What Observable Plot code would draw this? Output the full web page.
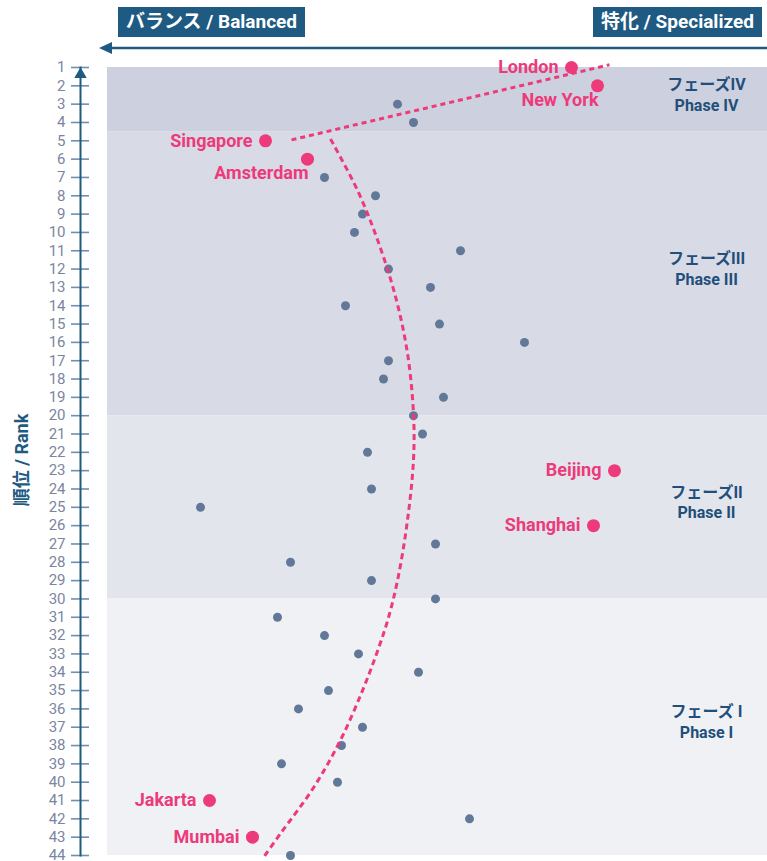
<!DOCTYPE html>
<html><head><meta charset="utf-8">
<script src="https://cdn.jsdelivr.net/npm/d3@7"></script>
<script src="https://cdn.jsdelivr.net/npm/@observablehq/plot@0.6"></script>
<style>
body{margin:0;background:#fff;}
#wrap{position:relative;width:767px;height:861px;font-family:Roboto,"Noto Sans CJK JP",sans-serif;overflow:hidden;}
#chart{position:absolute;left:0;top:0;}
.hdr{position:absolute;top:7px;height:30px;background:#1e5a82;color:#fff;font-weight:700;font-size:19px;line-height:30px;text-align:center;white-space:nowrap;}
#ylab{position:absolute;left:20px;top:460px;transform:translate(-50%,-50%) rotate(-90deg);color:#1e5a82;font-weight:700;font-size:18px;white-space:nowrap;}
</style></head><body>
<div id="wrap">
  <div id="chart"></div>
  <div class="hdr" style="left:118px;width:187px">バランス / Balanced</div>
  <div class="hdr" style="left:593px;width:169px">特化 / Specialized</div>
  <svg style="position:absolute;left:0;top:0" width="767" height="60">
    <line x1="108" y1="48" x2="767" y2="48" stroke="#1e5a82" stroke-width="2.5"/>
    <path d="M99,48 L112,42 L112,54 Z" fill="#1e5a82"/>
  </svg>
  <div id="ylab">順位 / Rank</div>
</div>
<script>
// ---- data ----
const ranks = [1,2,3,4,5,6,7,8,9,10,11,12,13,14,15,16,17,18,19,20,21,22,23,24,25,26,27,28,29,30,31,32,33,34,35,36,37,38,39,40,41,42,43,44];
// specialization score (horizontal position)
const scores = [571,597,397,413,265,307,324,375,362,354,460,388,430,345,439,524,388,383,443,413,422,367,614,371,200,593,435,290,371,435,277,324,358,418,328,298,362,341,281,337,209,469,252,290];
const highlightRanks = [1,2,5,6,23,26,41,43];
const highlightNames = ["London","New York","Singapore","Amsterdam","Beijing","Shanghai","Jakarta","Mumbai"];
const belowLabelNames = ["New York","Amsterdam"];
const phaseJp = ["フェーズIV","フェーズIII","フェーズII","フェーズ I"];
const phaseEn = ["Phase IV","Phase III","Phase II","Phase I"];
const phaseFrom = [1,4.5,20,30];
const phaseTo = [4.5,20,30,44];
const phaseColors = ["#cdd0de","#d8dae5","#e3e5ec","#f0f1f5"];
// trend lines: [rank, score]
const topTrendRanks = [4.95, 0.85];
const topTrendScores = [291, 609];
const curveRanks = [4.9,7.7,10.4,13.5,16.6,19.9,22.4,25.7,29.0,31.2,33.0,35.0,37.7,40.3,42.8,44.1];
const curveScores = [330,357,377,395,407,413,413,407,397,387,376,362,340,313,280,263];

// ---- build tables ----
const points = ranks.map((r,i)=>{
  const h = highlightRanks.indexOf(r);
  return {rank:r, score:scores[i], name: h>=0 ? highlightNames[h] : null};
});
const plain = points.filter(d=>!d.name);
const hi = points.filter(d=>d.name);
const hiLeft = hi.filter(d=>!belowLabelNames.includes(d.name));
const hiBelow = hi.filter(d=>belowLabelNames.includes(d.name));
const phases = phaseJp.map((jp,i)=>({jp, en:phaseEn[i], from:phaseFrom[i], to:phaseTo[i], color:phaseColors[i]}));
const topTrend = topTrendRanks.map((r,i)=>({rank:r, score:topTrendScores[i]}));
const curve = curveRanks.map((r,i)=>({rank:r, score:curveScores[i]}));

const PINK = "#ec3a7a", DOT = "#627898", NAVY = "#1e5a82", PHASE = "#1f4f7a";
const bandStart = 107, xMax = 767, axisX = 80;

const chart = Plot.plot({
  width: 767, height: 861,
  marginTop: 67, marginBottom: 6, marginLeft: 80, marginRight: 0,
  style: {fontFamily: 'Roboto, "Noto Sans CJK JP", sans-serif', background: "transparent", overflow: "visible"},
  x: {domain: [axisX, xMax], range: [axisX, xMax], axis: null},
  y: {domain: [1, 44], range: [67, 855], axis: null},
  marks: [
    Plot.rect(phases, {x1: () => bandStart, x2: () => xMax, y1: "from", y2: "to", fill: "color"}),
    Plot.text(phases, {x: () => 706, y: d => (d.from + d.to) / 2, text: d => d.jp + "\n" + d.en,
      lineHeight: 1.3, fontSize: 16, fontWeight: 700, fill: PHASE, dy: -6}),
    Plot.dot(plain, {x: "score", y: "rank", r: 4.5, fill: DOT}),
    Plot.line(topTrend, {x: "score", y: "rank", stroke: PINK, strokeWidth: 3, strokeDasharray: "5,4", strokeLinecap: "butt"}),
    Plot.line(curve, {x: "score", y: "rank", stroke: PINK, strokeWidth: 3, strokeDasharray: "6,4", strokeLinecap: "butt", curve: "catmull-rom"}),
    Plot.dot(hi, {x: "score", y: "rank", r: 6.5, fill: PINK}),
    Plot.text(hiLeft, {x: "score", y: "rank", text: "name", textAnchor: "end", dx: -13, fill: PINK, fontSize: 18, fontWeight: 700}),
    Plot.text(hiBelow, {x: "score", y: "rank", text: "name", textAnchor: "end", dx: 1, dy: 14, fill: PINK, fontSize: 18, fontWeight: 700}),
    // rank axis
    Plot.ruleY(ranks, {y: d => d, x1: () => 71, x2: () => 89, stroke: "#6f8fae", strokeWidth: 1.6}),
    Plot.frame({anchor: "left", stroke: NAVY, strokeWidth: 2}),
    Plot.dot([ranks[0]], {x: () => axisX, y: d => d, symbol: "triangle", r: 4.6, fill: NAVY, dy: 7}),
    Plot.axisY(ranks, {anchor: "left", tickSize: 0, tickPadding: 15, fontSize: 15, color: "#7a86a0", tickFormat: d => d})
  ]
});
document.getElementById("chart").appendChild(chart);
</script>
</body></html>
